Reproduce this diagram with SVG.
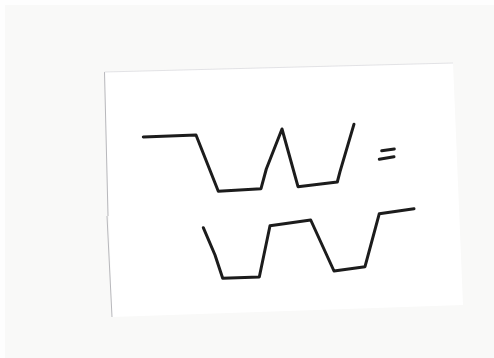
<svg xmlns="http://www.w3.org/2000/svg" width="494" height="358" viewBox="0 0 494 358">
<style>
.ink{fill:none;stroke:#1c1c1c;stroke-width:3;stroke-linejoin:round;stroke-linecap:round}
.edge{fill:none;stroke:#b8b8bc;stroke-width:1}
</style>
<rect x="0" y="0" width="494" height="358" fill="#f9f9f8"/>
<rect x="0" y="0" width="494" height="5" fill="#fefefe"/>
<rect x="0" y="0" width="5" height="358" fill="#fefefe"/>
<g id="paper">
<polygon points="104.5,72 453,63 463,305 112,317" fill="#ffffff"/>
<path class="edge" d="M104.5,72 L108,216 M107,216 L112,317"/>
<path d="M104.5,72 L453,63" fill="none" stroke="#dcdce0" stroke-width="0.8"/>
</g>
<g id="connectors">
<polyline id="top-wave" class="ink" points="143.3,137 196,135 218.3,191.2 261,188.7 266.3,169 282,129 298,186.7 337.3,182 340,171.7 354,124.2"/>
<polyline id="bottom-wave" class="ink" points="203.3,227.7 215,255 222.7,278.3 259.3,277 270,225.7 310.7,220 334,271 365,266.7 379.3,213.7 414,208.7"/>
</g>
<g id="equals">
<path class="ink" stroke-width="2.6" d="M381.7,150.7 L394.3,149 M379.3,159.3 L394,156.7"/>
</g>
</svg>
